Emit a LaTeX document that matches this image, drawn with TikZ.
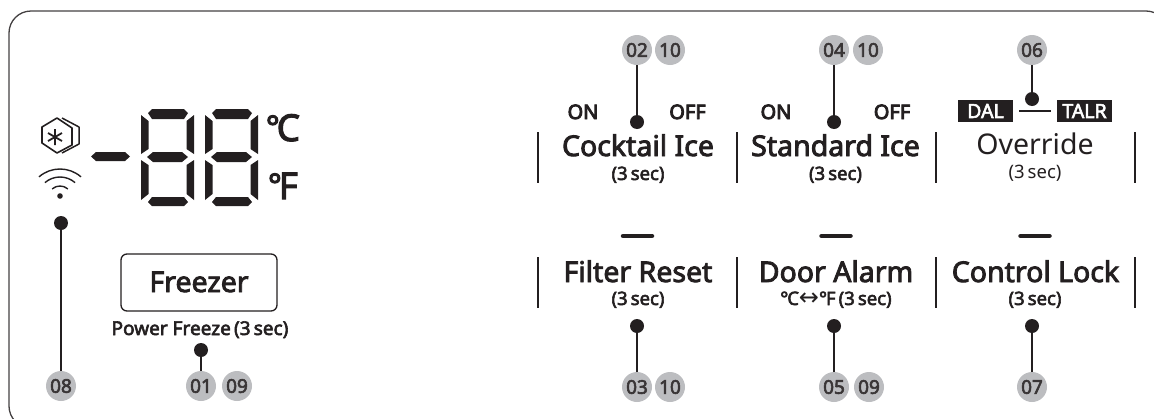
\documentclass[tikz,border=0pt]{standalone}
\usepackage{fontspec}
\setmainfont{Noto Sans}
\newfontfamily\semib{Noto Sans}[FakeBold=3]
\newfontfamily\heavy{Noto Sans}[FakeBold=4.5]
\newfontfamily\arrowfont{DejaVu Sans}
\definecolor{ink}{HTML}{231F20}
\definecolor{badge}{HTML}{BCBDC0}
\newcommand{\fs}[1]{\fontsize{#1}{#1}\selectfont}
\tikzset{
  x=1pt,y=-1pt,
  every node/.style={inner sep=0pt,outer sep=0pt,text=ink},
  badgenode/.style={circle,fill=badge,minimum size=30pt,font=\fs{19}\semib,text=ink!90},
  dotnode/.style={circle,fill=ink,minimum size=14pt},
  lead/.style={draw=ink,line width=2.2pt},
  sep/.style={draw=ink,line width=1.4pt},
  title/.style={anchor=base,font=\fs{28.5}\semib},
  titlethin/.style={anchor=base,font=\fs{28.5}},
  sub/.style={anchor=base,font=\fs{18.5}\semib},
  onoff/.style={anchor=base,font=\fs{20}\heavy},
  tagbox/.style={fill=ink,text=white,minimum width=55pt,minimum height=22pt,font=\fs{19.5}\semib},
  shortbar/.style={draw=ink,line width=4.5pt,line cap=round}
}
\newcommand{\digitglyph}[1]{%
  \begin{scope}[xshift=#1pt]
  \fill[ink] (0,115)--(7.5,121)--(7.5,149)--(0,154)--cycle;
  \fill[ink] (0,160)--(7.5,165)--(7.5,194)--(0,200)--cycle;
  \fill[ink] (53,115)--(45.5,121)--(45.5,149)--(53,154)--cycle;
  \fill[ink] (53,160)--(45.5,165)--(45.5,194)--(53,200)--cycle;
  \fill[ink] (7,113)--(11,109)--(43,109)--(47,113)--(43,119)--(11,119)--cycle;
  \fill[ink] (6,157)--(12,152)--(41,152)--(47,157)--(41,162)--(12,162)--cycle;
  \fill[ink] (7,202)--(11,197)--(43,197)--(47,202)--(43,206)--(11,206)--cycle;
  \end{scope}
}
\begin{document}
\begin{tikzpicture}
\useasboundingbox (0,0) rectangle (1154,418);
\begin{scope}
\clip (0,0) rectangle (1154,418);
\draw[ink!85,line width=1.3pt,rounded corners=22pt] (9,11) rectangle (1168,428);
\end{scope}
% LCD
\digitglyph{141}
\digitglyph{205}
\fill[ink] (91,156.5)--(96,152)--(125,152)--(130,156.5)--(125,161)--(96,161)--cycle;
\node[anchor=base,font=\fs{37}\semib] (degc) at (283,141) {{\fs{32}\raisebox{2.5pt}{°}}\kern-3pt C};
\node[anchor=base,font=\fs{37}\semib] (degf) at (283,199) {{\fs{32}\raisebox{2.5pt}{°}}\kern-3pt F};
% hex icon
\draw[ink,line width=1.6pt,line join=round] (57,118)--(72,128)--(72,145)--(57,153)--(42,143)--(42,127)--cycle;
\draw[ink,line width=1.5pt,line join=round] (62,118)--(79,127)--(79,144)--(62,153);
\draw[ink,line width=1.8pt] (55,129)--(55,145) (48,133)--(62,141) (48,141)--(62,133);
% wifi
\fill[ink] (60,196) circle[radius=2.8];
\draw[ink,line width=1.4pt] ({60+12*cos(229)},{198+12*sin(229)}) arc[start angle=229,end angle=311,radius=12];
\draw[ink,line width=1.4pt] ({60+23*cos(229)},{200+23*sin(229)}) arc[start angle=229,end angle=311,radius=23];
\draw[ink,line width=1.4pt] ({60+32*cos(229)},{201+32*sin(229)}) arc[start angle=229,end angle=311,radius=32];
% Freezer
\node[draw=ink,line width=1.3pt,rounded corners=6pt,minimum width=156pt,minimum height=57pt] (freezer) at (199,282.5) {};
\node[title] (freezerlabel) at (199,292) {Freezer};
\node[anchor=base,font=\fs{19}\semib] (pf) at (200,335) {Power Freeze\,(3\,sec)};
% separators
\foreach \x in {538,737,936,1135}{ \draw[sep] (\x,132)--(\x,183); \draw[sep] (\x,257)--(\x,308); }
% titles
\node[title] (t1) at (638,156) {Cocktail Ice};
\node[sub] (s1) at (638,180) {(3\,sec)};
\node[title] (t2) at (835.5,156) {Standard Ice};
\node[sub] (s2) at (835.5,180) {(3\,sec)};
\node[titlethin] (t3) at (1035,154) {Override};
\node[anchor=base,font=\fs{18.5}] (s3) at (1035,178) {(3\,sec)};
\node[title] (t4) at (638,282) {Filter Reset};
\node[sub] (s4) at (638,305) {(3\,sec)};
\node[title] (t5) at (836,282) {Door Alarm};
\node[sub] (s5) at (836,305) {°\kern-1pt C{\arrowfont\fs{24}\smash{↔}}°\kern-1pt F\,(3\,sec)};
\node[title] (t6) at (1035.5,282) {Control Lock};
\node[sub] (s6) at (1035,305) {(3\,sec)};
% on off
\node[onoff] (on1) at (583,119) {ON};
\node[onoff] (off1) at (687.5,119) {OFF};
\node[onoff] (on2) at (776,119) {ON};
\node[onoff] (off2) at (892,119) {OFF};
% DAL TALR
\node[tagbox] (dal) at (985.5,111) {DAL};
\node[tagbox] (talr) at (1084.5,111) {TALR};
\draw[ink,line width=2pt] ([xshift=6pt]dal.east) -- ([xshift=-6pt]talr.west);
% short bars
\foreach \x in {637.5,836,1035}{\draw[shortbar] (\x-14.5,236)--(\x+14.5,236);}
% badges & dots
\node[badgenode] (b02) at (637,50) {02};
\node[badgenode] (b10a) at (670,50) {10};
\node[dotnode] (d02) at (637,122) {};
\draw[lead] (b02)--(d02);
\node[badgenode] (b04) at (834,50) {04};
\node[badgenode] (b10b) at (868,50) {10};
\node[dotnode] (d04) at (834,122) {};
\draw[lead] (b04)--(d04);
\node[badgenode] (b06) at (1032,50) {06};
\node[dotnode] (d06) at (1032,99) {};
\draw[lead] (b06)--(d06);
\node[badgenode] (b03) at (637,387) {03};
\node[badgenode] (b10c) at (670,387) {10};
\node[dotnode] (d03) at (637,326) {};
\draw[lead] (b03)--(d03);
\node[badgenode] (b05) at (834,387) {05};
\node[badgenode] (b09a) at (869,387) {09};
\node[dotnode] (d05) at (834,326) {};
\draw[lead] (b05)--(d05);
\node[badgenode] (b07) at (1032,387) {07};
\node[dotnode] (d07) at (1032,326) {};
\draw[lead] (b07)--(d07);
\node[badgenode] (b08) at (61,386) {08};
\node[dotnode] (d08) at (61,223) {};
\draw[lead] (b08)--(d08);
\node[badgenode] (b01) at (201,386) {01};
\node[badgenode] (b09b) at (237,386) {09};
\node[dotnode] (d01) at (201,350) {};
\draw[lead] (b01)--(d01);
\end{tikzpicture}
\end{document}
